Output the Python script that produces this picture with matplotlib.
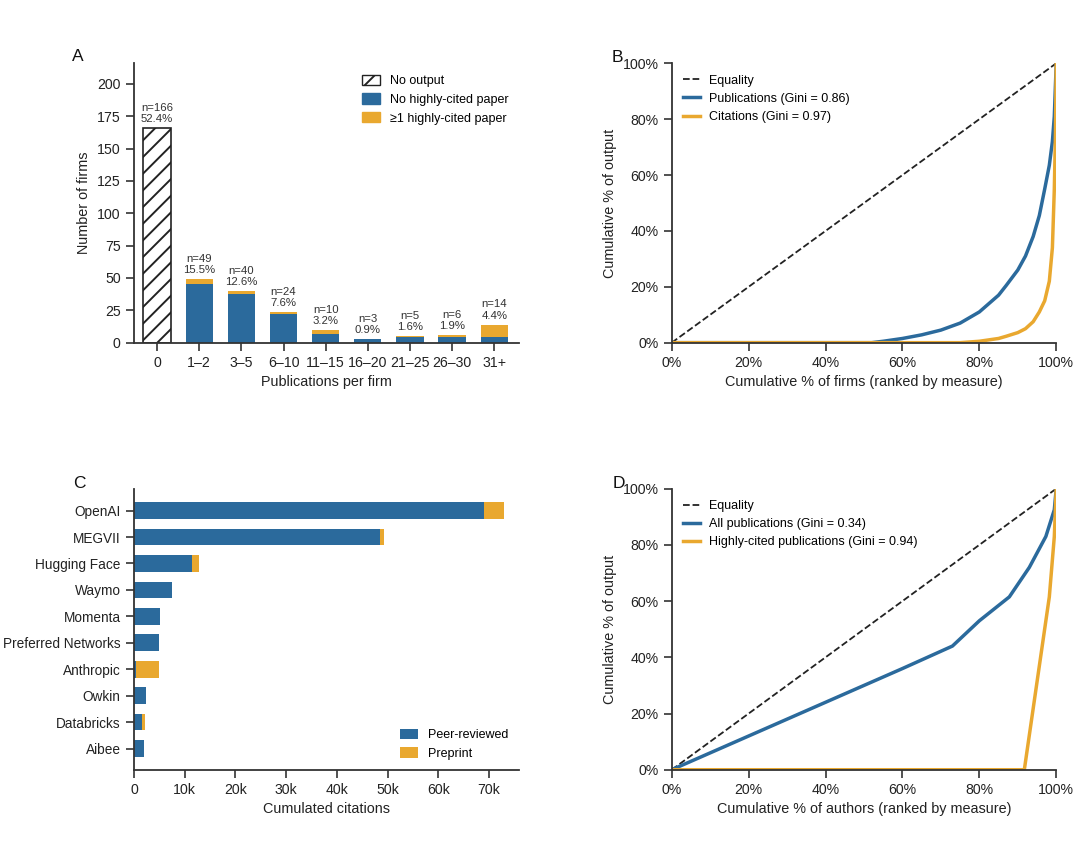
#!/usr/bin/env python
# four-panel figure: firm output distribution, Lorenz curves, top firms by citations

import numpy as np
import matplotlib
matplotlib.use("Agg")
from matplotlib import pyplot as plt
from matplotlib.patches import Patch
from matplotlib.ticker import FuncFormatter

plt.rcParams['font.family'] = ['Liberation Sans', 'DejaVu Sans']
plt.rcParams['hatch.linewidth'] = 1.4

BLUE = '#2b6a9c'
ORANGE = '#e9a82f'
SPINE = '#333333'
TXT = '#222222'
LABEL_FS = 10.4

# panel A data
bins = ['0', '1\u20132', '3\u20135', '6\u201310', '11\u201315', '16\u201320',
        '21\u201325', '26\u201330', '31+']
n_none = 166
n_plain = [45, 38, 22, 7, 3, 4, 4, 4]
n_cited = [4, 2, 2, 3, 0, 1, 2, 10]

# panel B data (Lorenz curves over firms)
pub_x = [0, 52, 55, 60, 65, 70, 75, 80, 85, 87, 90, 92, 94, 95.6, 97, 98.2, 99, 99.5, 100]
pub_y = [0, 0, 0.5, 1.5, 2.8, 4.5, 7, 11, 17, 20.5, 26, 31, 38, 45.5, 55, 63.5, 72, 81, 100]
cit_x = [0, 75, 80, 85, 87, 90, 92, 94, 95.6, 97, 98.2, 99, 99.5, 99.8, 100]
cit_y = [0, 0, 0.5, 1.5, 2.3, 3.6, 5, 7.5, 11, 15, 22, 34, 55, 75, 100]

# panel C data
firms = ['OpenAI', 'MEGVII', 'Hugging Face', 'Waymo', 'Momenta',
         'Preferred Networks', 'Anthropic', 'Owkin', 'Databricks', 'Aibee']
cit_peer = [69000, 48500, 11400, 7500, 5100, 4900, 500, 2300, 1600, 2000]
cit_pre = [4000, 700, 1400, 100, 0, 0, 4400, 0, 600, 0]

# panel D data (Lorenz curves over authors)
all_x = [0, 20, 40, 60, 73, 80, 87.8, 93, 97.3, 99.5, 100]
all_y = [0, 12, 24, 36, 44, 53, 61.5, 72, 83, 92.5, 100]
hc_x = [0, 91.7, 98.2, 99.5, 100]
hc_y = [0, 0, 61.5, 83, 100]


def style_axes(ax):
    for s in ['top', 'right']:
        ax.spines[s].set_visible(False)
    for s in ['left', 'bottom']:
        ax.spines[s].set_color(SPINE)
        ax.spines[s].set_linewidth(1.3)
    ax.tick_params(colors=SPINE, labelcolor=TXT, labelsize=10.2,
                   width=1.2, length=5.5, direction='out', pad=4)


pct = FuncFormatter(lambda v, p: '%d%%' % v)

fig = plt.figure(figsize=(10.8, 8.44), dpi=100)
axA = fig.add_axes([0.124, 0.594, 0.357, 0.331])
axB = fig.add_axes([0.622, 0.594, 0.356, 0.331])
axC = fig.add_axes([0.124, 0.088, 0.357, 0.333])
axD = fig.add_axes([0.622, 0.088, 0.356, 0.333])

# --- A ---
style_axes(axA)
total = n_none + sum(n_plain) + sum(n_cited)
xs = np.arange(len(bins))
w = 0.65
axA.bar(xs[0], n_none, w, facecolor='white', edgecolor=TXT,
        hatch='//', linewidth=1.2)
axA.bar(xs[1:], n_plain, w, color=BLUE)
axA.bar(xs[1:], n_cited, w, bottom=n_plain, color=ORANGE)
counts = [n_none] + [a + b for a, b in zip(n_plain, n_cited)]
for x, c in zip(xs, counts):
    axA.text(x, c + 3, 'n=%d\n%.1f%%' % (c, 100.0 * c / total),
             ha='center', va='bottom', fontsize=8.2, color='#333333',
             linespacing=1.15)
axA.set_xticks(xs)
axA.set_xticklabels(bins)
axA.set_yticks(range(0, 201, 25))
axA.set_xlim(-0.55, 8.6)
axA.set_ylim(0, 216)
axA.set_xlabel('Publications per firm', fontsize=LABEL_FS, color=TXT)
axA.set_ylabel('Number of firms', fontsize=LABEL_FS, color=TXT)
handlesA = [Patch(facecolor='white', edgecolor=TXT, hatch='//', label='No output'),
            Patch(color=BLUE, label='No highly-cited paper'),
            Patch(color=ORANGE, label='\u22651 highly-cited paper')]
axA.legend(handles=handlesA, loc='upper right', frameon=False, fontsize=9,
           handlelength=1.4, handleheight=0.9, bbox_to_anchor=(1.0, 1.0))

# --- B ---
style_axes(axB)
axB.plot([0, 100], [0, 100], '--', color=TXT, lw=1.3, label='Equality')
axB.plot(pub_x, pub_y, color=BLUE, lw=2.5, label='Publications (Gini = 0.86)')
axB.plot(cit_x, cit_y, color=ORANGE, lw=2.5, label='Citations (Gini = 0.97)')
axB.set_xlim(0, 100)
axB.set_ylim(0, 100)
axB.set_xticks(range(0, 101, 20))
axB.set_yticks(range(0, 101, 20))
axB.xaxis.set_major_formatter(pct)
axB.yaxis.set_major_formatter(pct)
axB.set_xlabel('Cumulative % of firms (ranked by measure)', fontsize=LABEL_FS, color=TXT)
axB.set_ylabel('Cumulative % of output', fontsize=LABEL_FS, color=TXT)
axB.legend(loc='upper left', frameon=False, fontsize=9, handlelength=1.35,
           handletextpad=0.7)

# --- C ---
style_axes(axC)
ys = np.arange(len(firms))
axC.barh(ys, cit_peer, 0.63, color=BLUE, label='Peer-reviewed')
axC.barh(ys, cit_pre, 0.63, left=cit_peer, color=ORANGE, label='Preprint')
axC.set_yticks(ys)
axC.set_yticklabels(firms)
axC.tick_params(axis='y', labelsize=9.8)
axC.set_ylim(len(firms) - 1 + 0.8, -0.83)
axC.set_xlim(0, 76000)
axC.set_xticks(range(0, 70001, 10000))
axC.xaxis.set_major_formatter(FuncFormatter(lambda v, p: '0' if v == 0 else '%dk' % (v / 1000)))
axC.set_xlabel('Cumulated citations', fontsize=LABEL_FS, color=TXT)
axC.legend(loc='lower right', frameon=False, fontsize=9, handlelength=1.4,
           handleheight=0.9, bbox_to_anchor=(1.0, -0.005))

# --- D ---
style_axes(axD)
axD.plot([0, 100], [0, 100], '--', color=TXT, lw=1.3, label='Equality')
axD.plot(all_x, all_y, color=BLUE, lw=2.5, label='All publications (Gini = 0.34)')
axD.plot(hc_x, hc_y, color=ORANGE, lw=2.5, label='Highly-cited publications (Gini = 0.94)')
axD.set_xlim(0, 100)
axD.set_ylim(0, 100)
axD.set_xticks(range(0, 101, 20))
axD.set_yticks(range(0, 101, 20))
axD.xaxis.set_major_formatter(pct)
axD.yaxis.set_major_formatter(pct)
axD.set_xlabel('Cumulative % of authors (ranked by measure)', fontsize=LABEL_FS, color=TXT)
axD.set_ylabel('Cumulative % of output', fontsize=LABEL_FS, color=TXT)
axD.legend(loc='upper left', frameon=False, fontsize=9, handlelength=1.35,
           handletextpad=0.7)

# panel letters
fig.text(0.067, 0.928, 'A', fontsize=12.5, color='#111111')
fig.text(0.566, 0.9265, 'B', fontsize=12.5, color='#111111')
fig.text(0.068, 0.422, 'C', fontsize=12.5, color='#111111')
fig.text(0.567, 0.4218, 'D', fontsize=12.5, color='#111111')

fig.savefig('out.png', dpi=100)
